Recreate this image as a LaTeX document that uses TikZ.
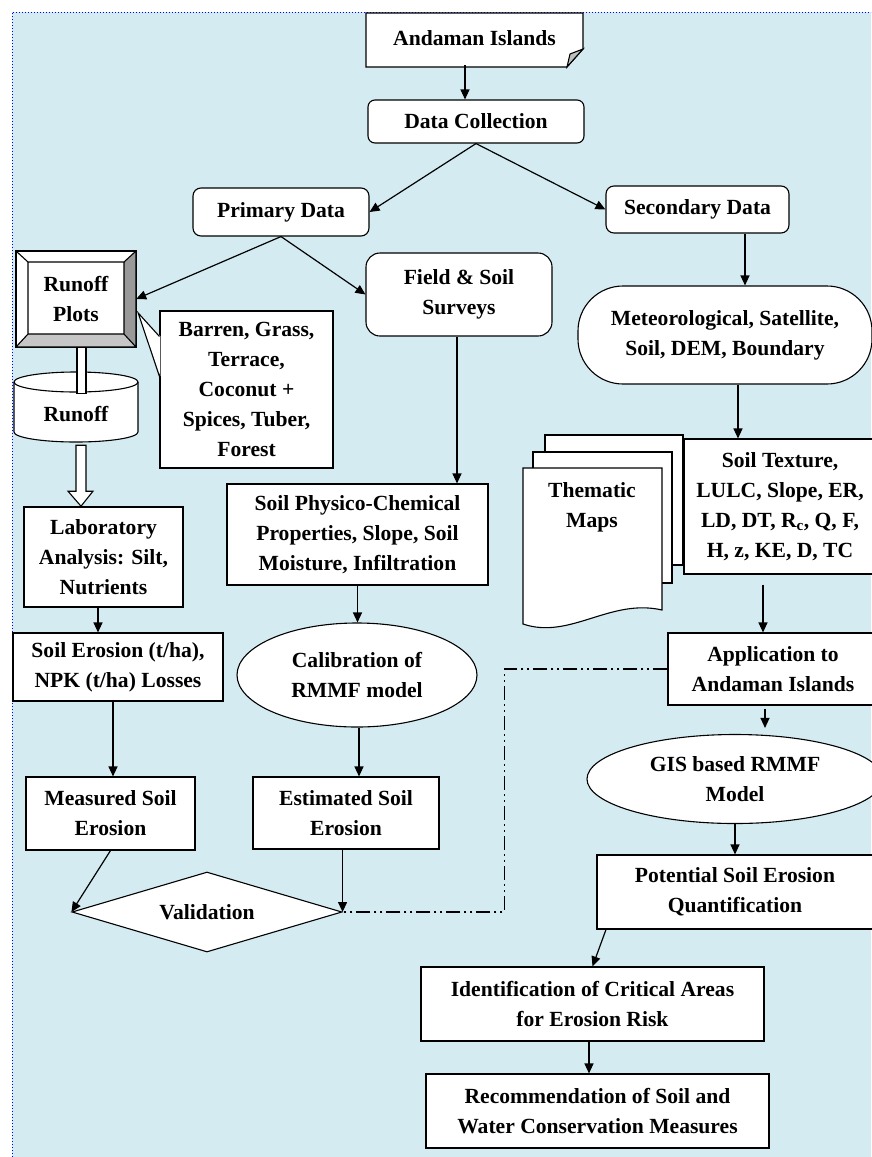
\documentclass[tikz,border=0pt]{standalone}
\usepackage{fontspec}
\setmainfont{Liberation Serif}
\usetikzlibrary{arrows.meta,calc,shapes.geometric}

\definecolor{bgblue}{HTML}{D4ECF1}
\definecolor{bevdark}{HTML}{999999}
\definecolor{bevlight}{HTML}{C6C6C6}

\tikzset{
  box/.style={draw, fill=white, align=center, inner sep=0pt, line width=1.1pt},
  lbl/.style={align=center, inner sep=0pt},
  arr/.style={-{Triangle[length=10pt,width=9pt]}, line width=1.2pt},
  dashdot/.style={line width=1.2pt, dash pattern=on 14pt off 4pt on 2pt off 4pt on 2pt off 4pt},
}

\begin{document}
\begin{tikzpicture}[x=1pt,y=1pt,yscale=-1,xscale=1,font=\bfseries\fontsize{21.6}{30}\selectfont]

\useasboundingbox (0,0) rectangle (871,1157);

% background
\fill[bgblue] (12,12) rectangle (871,1157);
\draw[blue, dotted, line width=1pt] (12,1157) -- (12,12) -- (871,12);

% top of the chart
\draw[line width=1.1pt, fill=white] (366,13) -- (583,13) -- (583,49) -- (567,67) -- (366,67) -- cycle;
\draw[line width=1.1pt, fill=lightgray] (583,49) -- (570,54) -- (567,67) -- cycle;
\node[lbl, minimum width=217pt, minimum height=54pt] (andaman) at (474.5,38) {Andaman Islands};

\node[box, rounded corners=7pt, minimum width=216pt, minimum height=43pt] (datacol) at (476,121.5) {Data Collection};
\node[box, rounded corners=8pt, minimum width=176pt, minimum height=48pt] (primary) at (281,212) {Primary Data};
\node[box, rounded corners=8pt, minimum width=183pt, minimum height=47pt] (secondary) at (697.5,209.5) {Secondary Data};

% runoff plots (bevel)
\draw[line width=1.1pt, fill=white] (16,251) rectangle (136,347);
\fill[bevdark] (136,251) -- (136,347) -- (124,334) -- (124,262) -- cycle;
\fill[bevlight] (16,347) -- (136,347) -- (124,334) -- (28,334) -- cycle;
\draw[line width=1.1pt] (16,251) rectangle (136,347) (28,262) rectangle (124,334)
  (16,251) -- (28,262) (136,251) -- (124,262) (16,347) -- (28,334) (136,347) -- (124,334);
\node[lbl, minimum width=120pt, minimum height=96pt] (runoffplots) at (76,299) {Runoff\\Plots};

\node[box, rounded corners=14pt, minimum width=186pt, minimum height=83pt] (field) at (459,294.5) {Field \& Soil\\Surveys};

% callout
\node[box, minimum width=173pt, minimum height=157pt] (callout) at (246.5,389.5) {Barren, Grass,\\Terrace,\\Coconut +\\Spices, Tuber,\\Forest};
\fill[white] ($(callout.north west)+(1,26)$) -- ($(runoffplots.east)+(2,14)$) -- ($(callout.north west)+(1,66)$) -- cycle;
\draw[line width=1.1pt] ($(callout.north west)+(0,26)$) -- ($(runoffplots.east)+(2,14)$) -- ($(callout.north west)+(0,66)$);

% runoff (cylinder)
\draw[line width=1.1pt, fill=white] (14,382) -- (14,432) arc[start angle=180, end angle=0, x radius=62, y radius=10]
  -- (138,382) arc[start angle=0, end angle=-180, x radius=62, y radius=10] -- cycle;
\draw[line width=1.1pt] (14,382) arc[start angle=180, end angle=0, x radius=62, y radius=10];
\node[lbl, minimum width=124pt, minimum height=60pt] (runoff) at (76,414) {Runoff};

\node[box, rounded corners=45pt, minimum width=294pt, minimum height=98pt] (meteo) at (725,335) {Meteorological, Satellite,\\Soil, DEM, Boundary};

% thematic maps
\draw[line width=1.1pt, fill=white] (545,435) rectangle (683,565);
\draw[line width=1.1pt, fill=white] (533,452) rectangle (672,583);
\draw[line width=1.1pt, fill=white] (523,468) -- (662,468) -- (662,610) .. controls (610,598) and (570,640) .. (523,624) -- cycle;
\node[lbl] (thematic) at (592,507) {Thematic\\Maps};

\node[box, minimum width=192pt, minimum height=135pt] (soiltex) at (780,506.5) {Soil Texture,\\LULC, Slope, ER,\\LD, DT, R\textsubscript{c}, Q, F,\\H, z, KE, D, TC};

% left and middle columns
\node[box, minimum width=159pt, minimum height=100pt] (lab) at (103.5,557) {Laboratory\\Analysis: Silt,\\Nutrients};
\node[box, minimum width=210pt, minimum height=68pt] (soilero) at (118,667) {Soil Erosion (t/ha),\\NPK (t/ha) Losses};
\node[box, minimum width=169pt, minimum height=73pt] (measured) at (110.5,813.5) {Measured Soil\\Erosion};
\node[box, diamond, aspect=3.375, minimum width=270pt, minimum height=80pt] (validation) at (207,912) {Validation};

\node[box, minimum width=261pt, minimum height=101pt] (physico) at (357.5,534.5) {Soil Physico-Chemical\\Properties, Slope, Soil\\Moisture, Infiltration};
\node[box, ellipse, minimum width=240pt, minimum height=104pt] (calib) at (357,675) {Calibration of\\RMMF model};
\node[box, minimum width=186pt, minimum height=72pt] (estimated) at (346,813) {Estimated Soil\\Erosion};

% right column
\node[box, minimum width=210pt, minimum height=72pt] (application) at (773,669) {Application to\\Andaman Islands};
\node[box, ellipse, minimum width=296pt, minimum height=89pt] (gis) at (735,779) {GIS based RMMF\\Model};
\node[box, minimum width=276pt, minimum height=74pt] (potential) at (735,892) {Potential Soil Erosion\\Quantification};
\node[box, minimum width=343pt, minimum height=74pt] (identification) at (592.5,1004) {Identification of Critical Areas\\for Erosion Risk};
\node[box, minimum width=343pt, minimum height=74pt] (recommendation) at (597.5,1111) {Recommendation of Soil and\\Water Conservation Measures};

% connectors
\draw[arr] ([xshift=-9.5]andaman.south) -- ([xshift=-9.5]andaman.south |- datacol.north);
\draw[arr] (datacol.south) -- (primary.east);
\draw[arr] (datacol.south) -- (secondary.west);
\draw[arr] (primary.south) -- (runoffplots.east);
\draw[arr] (primary.south) -- (field.west);
\draw[arr] ([xshift=47.5]secondary.south) -- ([xshift=47.5]secondary.south |- meteo.north);
\draw[arr] ([xshift=-2]field.south) -- ([xshift=-2]field.south |- physico.north);
\draw[arr] ([xshift=13]meteo.south) -- ([xshift=13]meteo.south |- soiltex.north);
\draw[arr] ([xshift=-17,yshift=10]soiltex.south) -- ([xshift=-17]soiltex.south |- application.north);
\draw[arr, shorten <=3pt, shorten >=6pt] ([xshift=-8]application.south) -- ([xshift=-8]application.south |- gis.north);
\draw[arr] (gis.south) -- (gis.south |- potential.north);
\draw[arr] ([xshift=-129]potential.south) -- (identification.north);
\draw[arr] ([xshift=-3.5]identification.south) -- ([xshift=-3.5]identification.south |- recommendation.north);

\draw[line width=1.1pt, fill=white] ([xshift=1]runoffplots.south) rectangle ([xshift=10,yshift=10]runoff.north);
\draw[line width=1.1pt, fill=white] ($(runoff.south)+(0,1)$) -- ++(10,0) -- ++(0,46) -- ++(7,0) -- ++(-12,15) -- ++(-13,-15) -- ++(8,0) -- cycle;
\draw[arr] ([xshift=-5.5]lab.south) -- ([xshift=-5.5]lab.south |- soilero.north);
\draw[arr] ([xshift=-5]soilero.south) -- ([xshift=-5]soilero.south |- measured.north);
\draw[arr] (measured.south) -- (validation.west);

\draw[arr] (physico.south) -- (physico.south |- calib.north);
\draw[arr] ([xshift=2]calib.south) -- ([xshift=2]calib.south |- estimated.north);
\draw[arr] (validation.east |- estimated.south) -- (validation.east);

\draw[dashdot] (application.west) -- ++(-163,0) |- (validation.east);

\end{tikzpicture}
\end{document}
